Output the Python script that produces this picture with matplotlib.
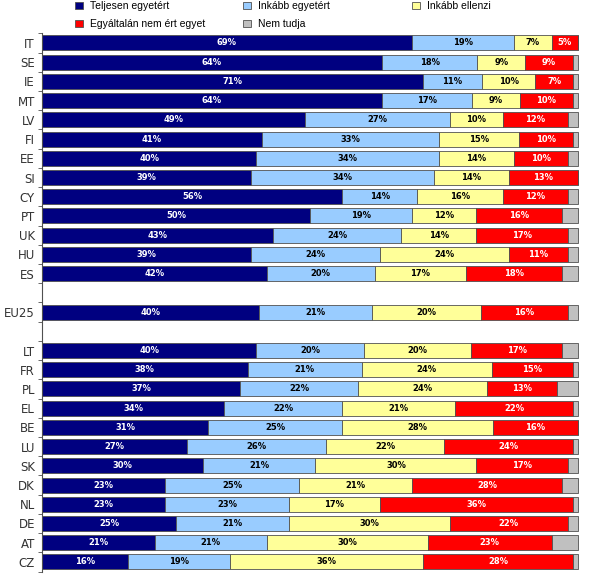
import matplotlib.pyplot as plt
import matplotlib.ticker as ticker
import numpy as np

# countries top to bottom, '' = empty slot
countries = ['IT', 'SE', 'IE', 'MT', 'LV', 'FI', 'EE', 'SI', 'CY', 'PT', 'UK', 'HU', 'ES',
             '', 'EU25', '',
             'LT', 'FR', 'PL', 'EL', 'BE', 'LU', 'SK', 'DK', 'NL', 'DE', 'AT', 'CZ']
teljesen = [69, 64, 71, 64, 49, 41, 40, 39, 56, 50, 43, 39, 42,
            0, 40, 0,
            40, 38, 37, 34, 31, 27, 30, 23, 23, 25, 21, 16]
inkabb_egyet = [19, 18, 11, 17, 27, 33, 34, 34, 14, 19, 24, 24, 20,
                0, 21, 0,
                20, 21, 22, 22, 25, 26, 21, 25, 23, 21, 21, 19]
inkabb_ellenzi = [7, 9, 10, 9, 10, 15, 14, 14, 16, 12, 14, 24, 17,
                  0, 20, 0,
                  20, 24, 24, 21, 28, 22, 30, 21, 17, 30, 30, 36]
egyaltalan = [5, 9, 7, 10, 12, 10, 10, 13, 12, 16, 17, 11, 18,
              0, 16, 0,
              17, 15, 13, 22, 16, 24, 17, 28, 36, 22, 23, 28]
nem_tudja = [0, 1, 1, 1, 2, 1, 2, 0, 2, 3, 2, 2, 3,
             0, 2, 0,
             3, 1, 4, 1, 0, 1, 2, 3, 1, 2, 5, 1]

series = [('Teljesen egyetért', teljesen, '#000080', 'white'),
          ('Inkább egyetért', inkabb_egyet, '#99CCFF', 'black'),
          ('Inkább ellenzi', inkabb_ellenzi, '#FFFF99', 'black'),
          ('Egyáltalán nem ért egyet', egyaltalan, '#FF0000', 'white'),
          ('Nem tudja', nem_tudja, '#C0C0C0', None)]

data = np.array([s[1] for s in series], dtype=float)
tot = data.sum(axis=0)
tot[tot == 0] = 1
data = data / tot * 100

fig = plt.figure(figsize=(5.9, 5.75), dpi=100)
ax = fig.add_axes([0.071, 0.006, 0.912, 0.936])

y = np.arange(len(countries))
mask = np.array([c != '' for c in countries])
left = np.zeros(len(countries))
handles = []
for i, (name, vals, col, tcol) in enumerate(series):
    w = data[i]
    b = ax.barh(y[mask], w[mask], left=left[mask], height=0.78, color=col,
                edgecolor='#505050', linewidth=0.6, label=name)
    handles.append(b)
    if tcol is not None:
        for j in range(len(countries)):
            if countries[j] == '' or vals[j] == 0:
                continue
            ax.text(left[j] + w[j] / 2, y[j], '%d%%' % vals[j], ha='center', va='center',
                    color=tcol, fontsize=6, fontweight='bold')
    left = left + w

ax.set_xlim(0, 100.3)
ax.set_ylim(len(countries) - 0.5, -0.5)
ax.set_yticks(y)
ax.set_yticklabels(countries, fontsize=8.5, color='#333333')
ax.yaxis.set_minor_locator(ticker.FixedLocator(np.arange(-0.5, len(countries), 1)))
ax.tick_params(axis='y', which='major', length=0, pad=5)
ax.tick_params(axis='y', which='minor', length=3, color='#505050')
ax.set_xticks([])
for s in ['top', 'right', 'bottom']:
    ax.spines[s].set_visible(False)
ax.spines['left'].set_color('#505050')

# legend: three columns placed separately, row-wise like the original
cols = [[0, 3], [1, 4], [2]]
xpos = [75, 243, 412]
for c, xp in zip(cols, xpos):
    fig.legend(handles=[handles[k] for k in c], labels=[series[k][0] for k in c],
               loc='upper left', bbox_to_anchor=(xp / 590, 0.998), frameon=False,
               prop={'family': 'Liberation Sans', 'size': 7.5},
               handlelength=0.75, handleheight=0.75, handletextpad=0.7,
               labelspacing=0.75, borderpad=0, borderaxespad=0)

fig.savefig('out.png', dpi=100)
